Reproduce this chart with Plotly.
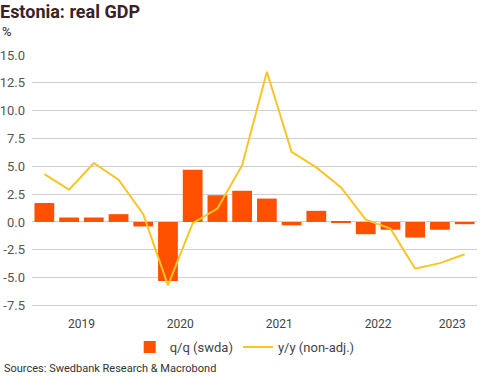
import plotly.graph_objects as go

quarters = ["2019Q1","2019Q2","2019Q3","2019Q4",
            "2020Q1","2020Q2","2020Q3","2020Q4",
            "2021Q1","2021Q2","2021Q3","2021Q4",
            "2022Q1","2022Q2","2022Q3","2022Q4",
            "2023Q1","2023Q2"]
qq = [1.7, 0.4, 0.4, 0.7,
      -0.4, -5.3, 4.7, 2.4,
      2.8, 2.1, -0.3, 1.0,
      -0.1, -1.1, -0.7, -1.4,
      -0.7, -0.2]
yy = [4.3, 2.9, 5.3, 3.8,
      0.7, -5.7, -0.1, 1.2,
      5.1, 13.5, 6.3, 4.9,
      3.1, 0.2, -0.6, -4.2,
      -3.7, -2.9]
years = ["2019", "2020", "2021", "2022", "2023"]
y_ticks = [-7.5, -5.0, -2.5, 0.0, 2.5, 5.0, 7.5, 10.0, 12.5, 15.0]

# year label positions: centre of each year's quarters (category index)
year_pos = []
for yr in years:
    idx = [i for i, q in enumerate(quarters) if q.startswith(yr)]
    year_pos.append(sum(idx) / len(idx))

BAR = "#FF5000"
LINE = "#F8C526"
FONT = "Roboto, Arial, sans-serif"

W, H = 491, 377
MT, MB = 55, 66
PH = H - MT - MB


def py(pix):
    return (H - MB - pix) / PH


fig = go.Figure()
fig.add_trace(go.Bar(x=quarters, y=qq, name="q/q (swda)", marker_color=BAR,
                     marker_line_width=0))
fig.add_trace(go.Scatter(x=quarters, y=yy, name="y/y (non-adj.)", mode="lines",
                         line=dict(color=LINE, width=2)))

fig.update_layout(
    width=W, height=H,
    margin=dict(l=32, r=14, t=MT, b=MB, autoexpand=False),
    paper_bgcolor="white", plot_bgcolor="white",
    font=dict(family=FONT, size=12, color="#555555"),
    bargap=0.2,
    showlegend=True,
    legend=dict(orientation="h", xref="paper", yref="paper",
                x=0.478, xanchor="center", y=py(347), yanchor="middle",
                font=dict(size=13, color="#444444"), itemwidth=30,
                tracegroupgap=0, bgcolor="rgba(0,0,0,0)"),
    title=dict(text="<b>Estonia: real GDP</b>", x=0.0, xanchor="left",
               xref="container", y=1 - 12 / H, yanchor="middle", yref="container",
               font=dict(family=FONT, size=18, color="#3B2226")),
)
fig.update_xaxes(type="category", tickmode="array", tickvals=year_pos,
                 ticktext=years, showgrid=False, zeroline=False,
                 showline=False, ticks="", tickfont=dict(size=12, color="#444444"),
                 ticklabelstandoff=4)
fig.update_yaxes(range=[-8.0, 15.0], tickmode="array", tickvals=y_ticks,
                 ticktext=[f"{v:.1f}" for v in y_ticks],
                 showgrid=True, gridcolor="#D0D0D0", gridwidth=1,
                 zeroline=False, showline=False, ticks="",
                 tickfont=dict(size=13, color="#555555"), ticklabelstandoff=6)

fig.add_annotation(text="%", xref="paper", yref="paper", x=0, xshift=-32,
                   y=py(31), xanchor="left", yanchor="middle",
                   showarrow=False, font=dict(size=13, color="#3B2226"))
fig.add_annotation(text="Sources: Swedbank Research & Macrobond", xref="paper",
                   yref="paper", x=0, xshift=-30, y=py(368),
                   xanchor="left", yanchor="middle", showarrow=False,
                   font=dict(size=11, color="#333333"))

fig.write_html("out.html", config={"displayModeBar": False},
               post_script="document.body.style.margin='0';document.body.style.overflow='hidden';")
